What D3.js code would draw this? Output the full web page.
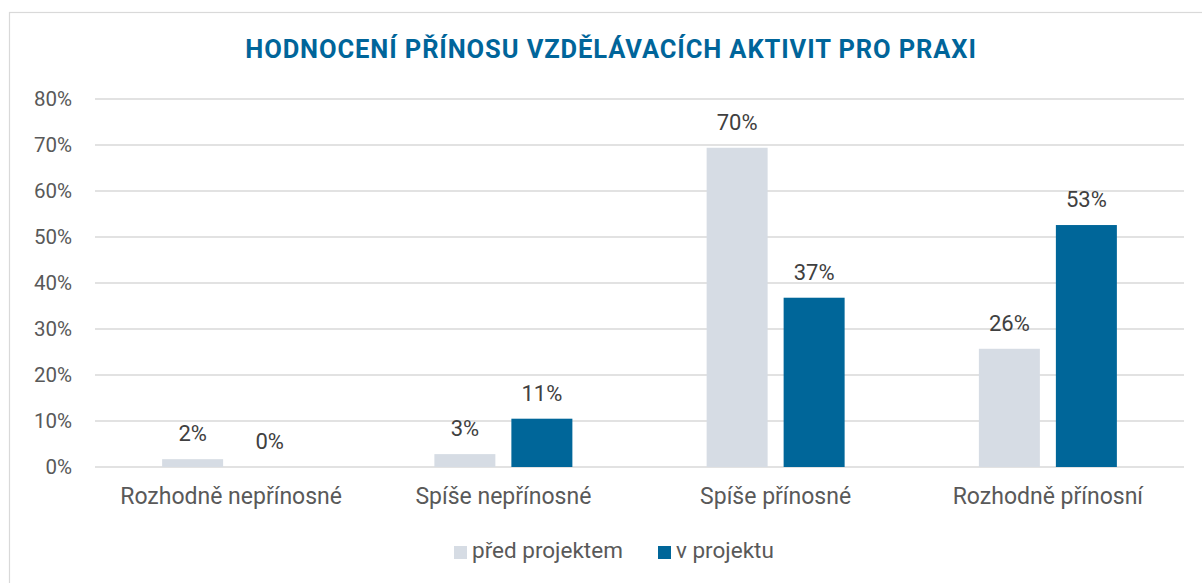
<!DOCTYPE html>
<html>
<head>
<meta charset="utf-8">
<script src="https://cdn.jsdelivr.net/npm/d3@7"></script>
<style>
  body { margin: 0; background: #fff; }
  svg { display: block; font-family: Roboto, "Noto Sans", sans-serif; }
</style>
</head>
<body>
<svg id="chart" width="1202" height="583"></svg>
<script>
const categories = ['Rozhodně nepřínosné', 'Spíše nepřínosné', 'Spíše přínosné', 'Rozhodně přínosní'];
const series_names = ['před projektem', 'v projektu'];
const before_values = [1.7, 2.8, 69.4, 25.7];
const during_values = [0, 10.5, 36.8, 52.6];
const before_labels = ['2%', '3%', '70%', '26%'];
const during_labels = ['0%', '11%', '37%', '53%'];
const y_ticks = [0, 10, 20, 30, 40, 50, 60, 70, 80];

const color_before = '#d6dce4';
const color_during = '#006699';

const svg = d3.select('#chart');
const margin = { left: 95, right: 18, top: 99, bottom: 116 };
const width = 1202;
const height = 583;

// outer frame of the chart area
svg.append('rect')
  .attr('x', 9.5).attr('y', 12.5)
  .attr('width', 1210).attr('height', 600)
  .attr('fill', 'none')
  .attr('stroke', '#d9d9d9')
  .attr('stroke-width', 1.2);

svg.append('text')
  .attr('x', 611).attr('y', 58)
  .attr('text-anchor', 'middle')
  .attr('font-size', 25.5)
  .attr('font-weight', 'bold')
  .attr('letter-spacing', '0.9')
  .attr('fill', '#00659a')
  .text('HODNOCENÍ PŘÍNOSU VZDĚLÁVACÍCH AKTIVIT PRO PRAXI');

const x = d3.scaleBand()
  .domain(categories)
  .range([margin.left, width - margin.right]);

const y = d3.scaleLinear()
  .domain([0, 80])
  .range([height - margin.bottom, margin.top]);

// gridlines
svg.append('g')
  .selectAll('line')
  .data(y_ticks)
  .join('line')
  .attr('x1', margin.left).attr('x2', width - margin.right)
  .attr('y1', d => y(d)).attr('y2', d => y(d))
  .attr('stroke', '#d9d9d9')
  .attr('stroke-width', 1.4);

// y tick labels
svg.append('g')
  .selectAll('text')
  .data(y_ticks)
  .join('text')
  .attr('x', 72).attr('y', d => y(d))
  .attr('dy', '0.36em')
  .attr('text-anchor', 'end')
  .attr('font-size', 20.5)
  .attr('fill', '#595959')
  .text(d => d + '%');

const bar_w = 61;
const offset = 38.5;

const rows = categories.map((c, i) => ({
  cat: c,
  vals: [
    { v: before_values[i], label: before_labels[i], dx: -offset, color: color_before },
    { v: during_values[i], label: during_labels[i], dx: offset, color: color_during },
  ],
}));

const groups = svg.append('g')
  .selectAll('g')
  .data(rows)
  .join('g')
  .attr('transform', d => `translate(${x(d.cat) + x.bandwidth() / 2},0)`);

groups.selectAll('rect')
  .data(d => d.vals)
  .join('rect')
  .attr('x', d => d.dx - bar_w / 2)
  .attr('width', bar_w)
  .attr('y', d => y(d.v))
  .attr('height', d => y(0) - y(d.v))
  .attr('fill', d => d.color);

groups.selectAll('text.val')
  .data(d => d.vals)
  .join('text')
  .attr('class', 'val')
  .attr('x', d => d.dx)
  .attr('y', d => y(d.v) - 18)
  .attr('text-anchor', 'middle')
  .attr('font-size', 22)
  .attr('fill', '#404040')
  .text(d => d.label);

// category labels
svg.append('g')
  .selectAll('text')
  .data(categories)
  .join('text')
  .attr('x', d => x(d) + x.bandwidth() / 2)
  .attr('y', 504)
  .attr('text-anchor', 'middle')
  .attr('font-size', 23)
  .attr('fill', '#595959')
  .text(d => d);

// legend
const legend = [
  { name: series_names[0], color: color_before, x: 454 },
  { name: series_names[1], color: color_during, x: 658 },
];
const lg = svg.append('g')
  .selectAll('g')
  .data(legend)
  .join('g')
  .attr('transform', d => `translate(${d.x},0)`);
lg.append('rect')
  .attr('x', 0).attr('y', 546)
  .attr('width', 13).attr('height', 13)
  .attr('fill', d => d.color);
lg.append('text')
  .attr('x', 18).attr('y', 558)
  .attr('font-size', 22.5)
  .attr('fill', '#595959')
  .text(d => d.name);
</script>
</body>
</html>
